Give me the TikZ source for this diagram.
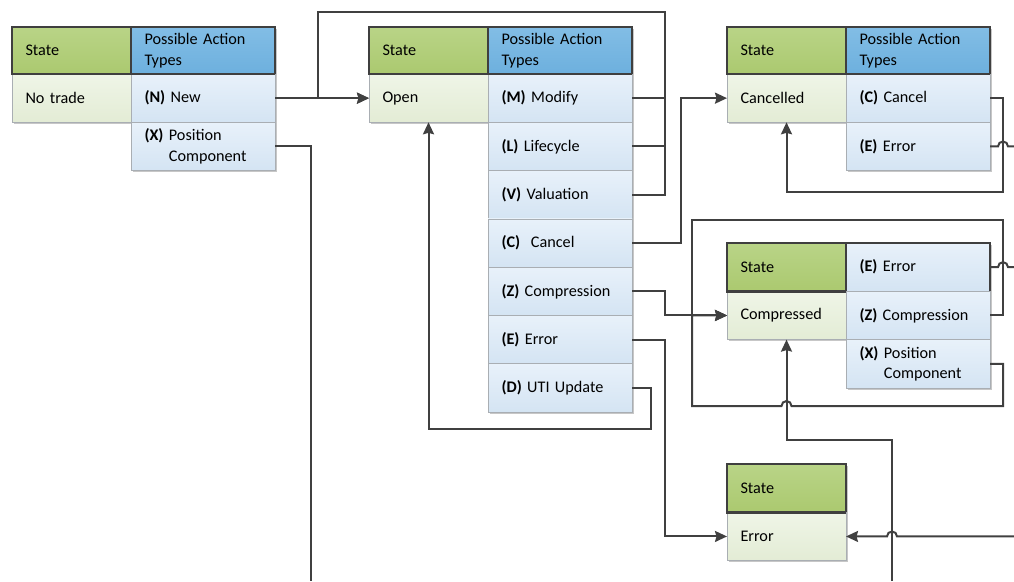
\documentclass[tikz,border=0pt]{standalone}
\usepackage{fontspec}
\setmainfont{Carlito}
\usetikzlibrary{arrows.meta,shadows,calc}
\definecolor{framegray}{HTML}{3F3F3F}
\definecolor{linegray}{HTML}{404040}
\definecolor{cellgray}{HTML}{A9AEB3}
\definecolor{greentop}{HTML}{B9D487}
\definecolor{greenbot}{HTML}{ABC96F}
\definecolor{bluetop}{HTML}{82BDE5}
\definecolor{bluebot}{HTML}{6DB0DE}
\definecolor{palegreentop}{HTML}{EFF5E7}
\definecolor{palegreenbot}{HTML}{E3ECD5}
\definecolor{palebluetop}{HTML}{E8F1FA}
\definecolor{palebluebot}{HTML}{D4E4F3}
\tikzset{
  cellbase/.style={rectangle, anchor=north west, inner xsep=13.5pt, inner ysep=0pt, outer sep=0pt, align=left, font=\fontsize{16.2}{20.5}\selectfont, draw=cellgray, line width=0.8pt, minimum height=48.3pt, drop shadow={shadow xshift=1.6pt, shadow yshift=-1.6pt, opacity=0.22, fill=black}},
  statecol/.style={cellbase, text width=92pt},
  actcol/.style={cellbase, text width=117pt},
  statehead/.style={statecol, draw=framegray, line width=2.6pt, top color=greentop, bottom color=greenbot},
  acthead/.style={actcol, draw=framegray, line width=2.6pt, top color=bluetop, bottom color=bluebot},
  stateval/.style={statecol, top color=palegreentop, bottom color=palegreenbot},
  actcell/.style={actcol, top color=palebluetop, bottom color=palebluebot},
  headframe/.style={draw=framegray, line width=2.6pt},
  link/.style={draw=linegray, line width=2pt},
  flow/.style={link, -{Stealth[length=12pt,width=11pt,inset=1.5pt]}}
}
\begin{document}
\begin{tikzpicture}[x=1pt,y=-1pt]
\useasboundingbox (0,0) rectangle (1014,581);
\coordinate (rightedge) at (1014,0);
\node[statehead, minimum height=47pt] (ntstate) at (12,27) {State};
\node[acthead, minimum height=47pt] (nthead) at (ntstate.north east) {Possible Action\\Types};
\node[stateval] (ntval) at (ntstate.south west) {No trade};
\node[actcell] (ntnew) at (ntval.north east) {\textbf{(N)} New};
\node[actcell] (ntpos) at (ntnew.south west) {\textbf{(X)} Position\\\phantom{\textbf{(X)} }Component};
\draw[headframe] (ntstate.south west) -- (nthead.south east);
\node[statehead, minimum height=47pt] (opstate) at (369,27) {State};
\node[acthead, minimum height=47pt] (ophead) at (opstate.north east) {Possible Action\\Types};
\node[stateval] (opval) at (opstate.south west) {Open};
\node[actcell] (opmod) at (opval.north east) {\textbf{(M)} Modify};
\node[actcell] (oplife) at (opmod.south west) {\textbf{(L)} Lifecycle};
\node[actcell] (opvalu) at (oplife.south west) {\textbf{(V)} Valuation};
\node[actcell] (opcan) at (opvalu.south west) {\textbf{(C)}\ \ Cancel};
\node[actcell] (opcomp) at (opcan.south west) {\textbf{(Z)} Compression};
\node[actcell] (operr) at (opcomp.south west) {\textbf{(E)} Error};
\node[actcell] (oputi) at (operr.south west) {\textbf{(D)} UTI Update};
\draw[headframe] (opstate.south west) -- (ophead.south east);
\node[statehead, minimum height=47pt] (castate) at (727,27) {State};
\node[acthead, minimum height=47pt] (cahead) at (castate.north east) {Possible Action\\Types};
\node[stateval] (caval) at (castate.south west) {Cancelled};
\node[actcell] (cacan) at (caval.north east) {\textbf{(C)} Cancel};
\node[actcell] (caerr) at (cacan.south west) {\textbf{(E)} Error};
\draw[headframe] (castate.south west) -- (cahead.south east);
\node[statehead] (costate) at (727,243) {State};
\node[actcell, draw=framegray, line width=1.3pt] (coerr) at (costate.north east) {\textbf{(E)} Error};
\node[stateval] (coval) at (costate.south west) {Compressed};
\node[actcell] (cocomp) at (coval.north east) {\textbf{(Z)} Compression};
\node[actcell] (copos) at (cocomp.south west) {\textbf{(X)} Position\\\phantom{\textbf{(X)} }Component};
\draw[headframe] (costate.south west) -- (costate.south east);
\node[statehead] (erstate) at (727,464) {State};
\node[stateval] (erval) at (erstate.south west) {Error};
\draw[headframe] (erstate.south west) -- (erstate.south east);
\draw[flow] (ntnew.east) -- (opval.west);
\draw[flow] (opmod.east) -- ++(33,0) |- (318,12) |- (opval.west);
\draw[link] (oplife.east) -- ++(33,0);
\draw[link] (opvalu.east) -- ++(33,0) |- (opmod.east);
\draw[flow] (opcan.east) -- ++(49,0) |- (caval.west);
\draw[flow] (opcomp.east) -- ++(33,0) |- (coval.west);
\draw[flow] (operr.east) -- ++(33,0) |- (erval.west);
\coordinate (utilow) at (0,429);
\draw[flow] (oputi.east) -- ++(19,0) |- (opval.south |- utilow) -- (opval.south);
\coordinate (ntposend) at (311,581);
\draw[link] (ntpos.east) -| (ntposend);
\coordinate (cabot) at (0,192);
\draw[flow] (cacan.east) -- ++(13,0) |- (caval.south |- cabot) -- (caval.south);
\draw[link] (caerr.east) -- ++(8,0) arc[start angle=180, end angle=360, radius=5] -- (caerr.east -| rightedge);
\coordinate (coloop) at (692,220);
\coordinate (cobot) at (0,406);
\draw[flow] (cocomp.east) -- ++(13,0) |- (coloop) |- (coval.west);
\draw[flow] (copos.east) -- ++(13,0) |- ($(coval.south |- cobot)+(5,0)$) arc[start angle=0, end angle=-180, radius=5] -- (coloop |- cobot) |- (coval.west);
\draw[link] (coerr.east) -- ++(8,0) arc[start angle=180, end angle=360, radius=5] -- (coerr.east -| rightedge);
\coordinate (riser) at (892,581);
\coordinate (cojoin) at (0,440);
\draw[flow] (riser) |- (coval.south |- cojoin) -- (coval.south);
\draw[flow] (erval.east -| rightedge) -- ($(erval.east -| riser)+(5,0)$) arc[start angle=0, end angle=-180, radius=5] -- (erval.east);
\end{tikzpicture}
\end{document}
